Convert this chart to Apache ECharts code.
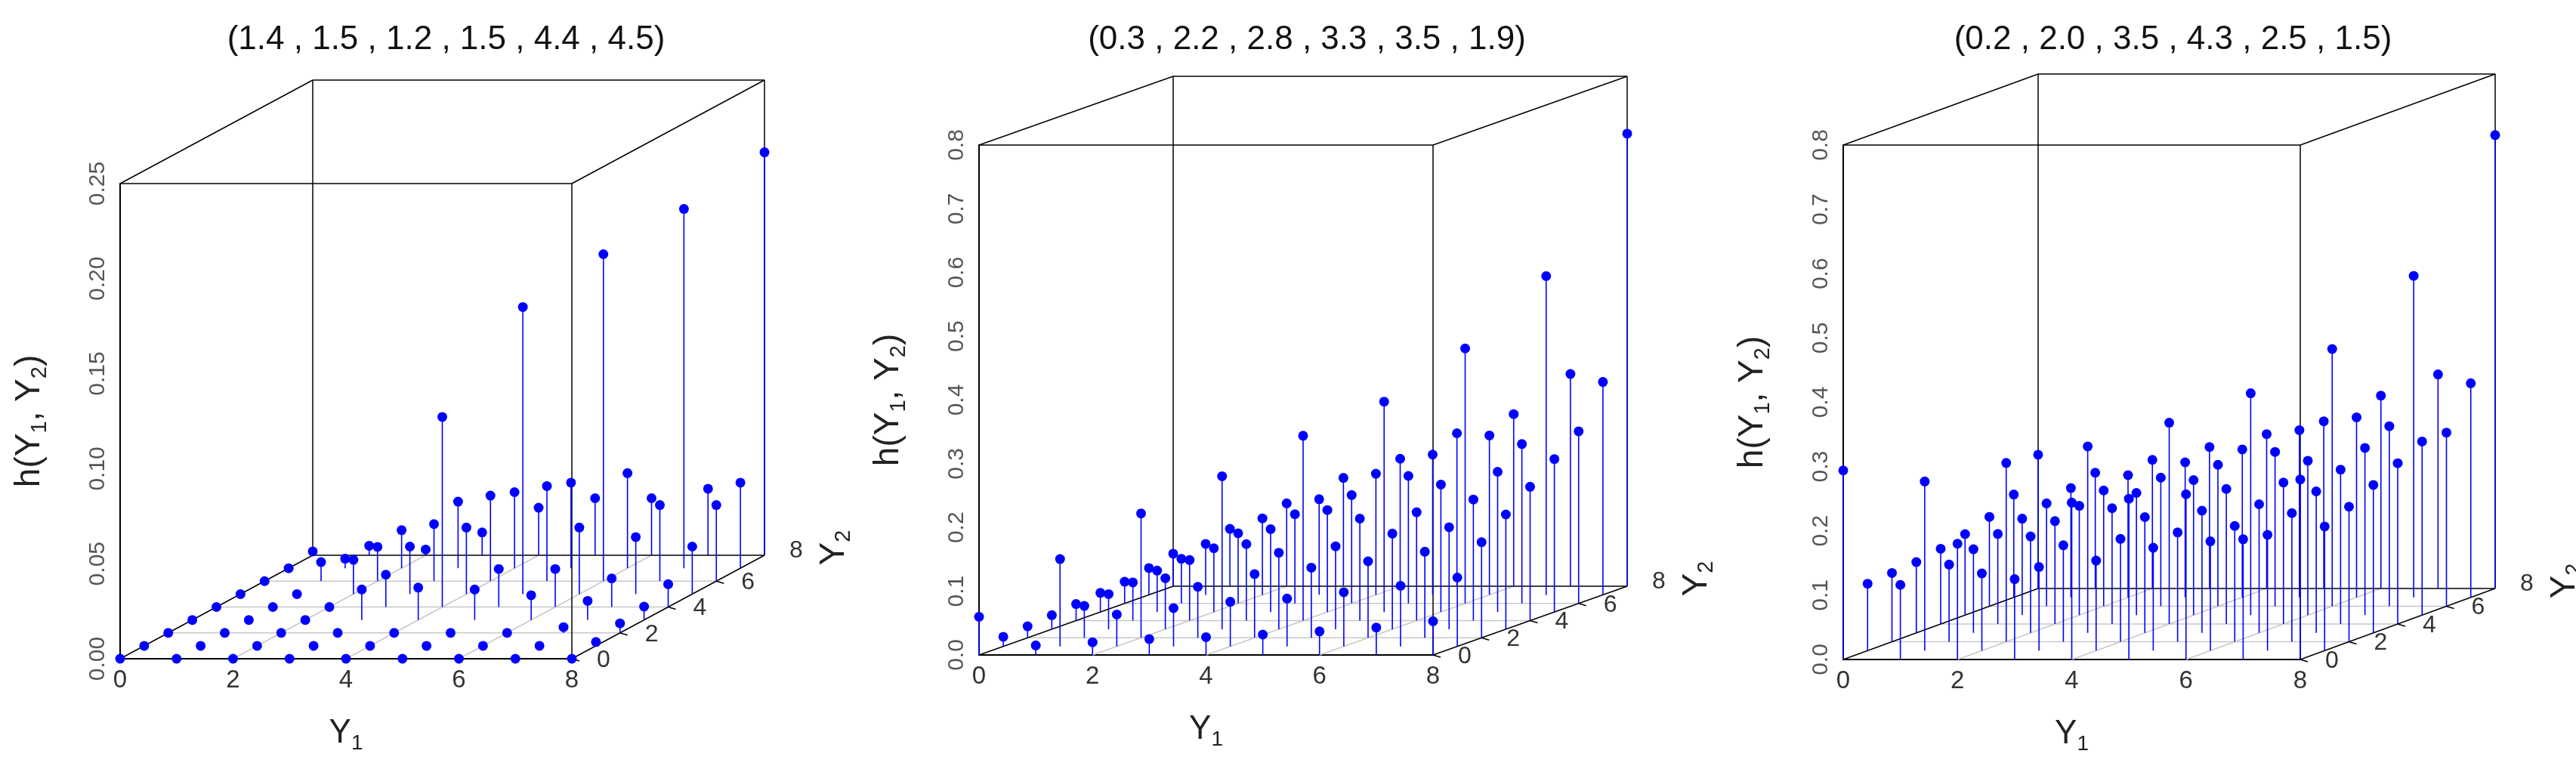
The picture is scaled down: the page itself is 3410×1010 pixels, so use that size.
<!DOCTYPE html>
<html><head><meta charset="utf-8">
<script src="https://cdn.jsdelivr.net/npm/echarts@6/dist/echarts.min.js"></script>
<style>html,body{margin:0;padding:0;background:#fff}#c{width:3410px;height:1010px}</style>
</head><body><div id="c"></div>
<script>
const Y1 = [0,1,2,3,4,5,6,7,8];
const Y2 = [0,1,2,3,4,5,6,7,8];
const titles = ['(1.4 , 1.5 , 1.2 , 1.5 , 4.4 , 4.5)','(0.3 , 2.2 , 2.8 , 3.3 , 3.5 , 1.9)','(0.2 , 2.0 , 3.5 , 4.3 , 2.5 , 1.5)'];
const y2Ticks = [0,2,4,6,8];
// rows: Y2 = 0..8, columns: Y1 = 0..8
const h1 = [
 [0,0,0,0,0,0,0,0,0],
 [0,0,0,0,0,0,0,0,0.002],
 [0,0,0,0,0,0,0,0.003,0.005],
 [0,0,0,0.016,0.017,0.016,0.013,0.01,0.007],
 [0,0,0,0.017,0.10,0.02,0.02,0.015,0.012],
 [0,0,0.018,0.025,0.035,0.151,0.035,0.03,0.025],
 [0,0.01,0.018,0.03,0.045,0.05,0.172,0.04,0.04],
 [0,0.005,0.02,0.035,0.04,0.045,0.05,0.189,0.045],
 [0.002,0.005,0.003,0.012,0.025,0.03,0.03,0.035,0.212]
];
const h2 = [
 [0.06,0.015,0.02,0.025,0.028,0.032,0.037,0.043,0.053],
 [0.015,0.137,0.05,0.06,0.07,0.075,0.085,0.095,0.108],
 [0.018,0.05,0.195,0.08,0.10,0.11,0.12,0.135,0.15],
 [0.022,0.055,0.08,0.24,0.12,0.13,0.15,0.16,0.18],
 [0.026,0.06,0.095,0.12,0.29,0.16,0.17,0.19,0.21],
 [0.03,0.065,0.10,0.13,0.16,0.33,0.2,0.22,0.24],
 [0.034,0.07,0.11,0.14,0.17,0.2,0.40,0.25,0.27],
 [0.042,0.08,0.12,0.15,0.19,0.22,0.25,0.50,0.334],
 [0.051,0.09,0.13,0.17,0.2,0.24,0.27,0.333,0.71]
];
const h3 = [
 [0.294,0.116,0.18,0.125,0.244,0.25,0.257,0.187,0.28],
 [0.104,0.263,0.12,0.13,0.14,0.16,0.17,0.18,0.193],
 [0.107,0.12,0.278,0.15,0.16,0.17,0.18,0.2,0.21],
 [0.11,0.13,0.15,0.29,0.18,0.19,0.2,0.22,0.23],
 [0.117,0.14,0.16,0.18,0.313,0.21,0.22,0.24,0.25],
 [0.126,0.15,0.17,0.19,0.21,0.345,0.24,0.26,0.27],
 [0.139,0.16,0.18,0.2,0.22,0.24,0.40,0.28,0.27],
 [0.16,0.17,0.19,0.21,0.23,0.26,0.28,0.50,0.333],
 [0.208,0.18,0.2,0.22,0.24,0.26,0.3,0.333,0.705]
];

const panels = [
 {h:h1, zmax:0.25, zint:0.05, dec:2, L:159, R:757, T:243, B:872, dx:255, dy:-137},
 {h:h2, zmax:0.8, zint:0.1, dec:1, L:1296, R:1897, T:192, B:867, dx:257, dy:-91},
 {h:h3, zmax:0.8, zint:0.1, dec:1, L:2440, R:3045, T:192, B:873, dx:258, dy:-94}
];
const BLUE = '#0000ff';
const FF = 'Liberation Sans, Arial';
const chart = echarts.init(document.getElementById('c'));
const grid=[], xAxis=[], yAxis=[], series=[], title=[];
const Y2MAX = 8;

panels.forEach((p,i)=>{
  grid.push({left:p.L, top:p.T, width:p.R-p.L, height:p.B-p.T});
  title.push({text:titles[i], left:(p.L+p.R+p.dx)/2, top:26, textAlign:'center',
    textStyle:{fontFamily:FF, fontSize:44, fontWeight:'normal', color:'#111'}});
  xAxis.push({gridIndex:i, type:'value', min:0, max:8, interval:2,
    name:'{a|Y}{s|1}', nameLocation:'middle', nameGap:72,
    nameTextStyle:{rich:{a:{fontSize:44,color:'#222',fontFamily:FF},s:{fontSize:28,color:'#222',padding:[26,0,0,0],fontFamily:FF}}},
    axisLine:{lineStyle:{color:'#000',width:2}}, axisTick:{show:false},
    axisLabel:{fontSize:33, color:'#333', margin:12, fontFamily:FF},
    splitLine:{show:false}});
  yAxis.push({gridIndex:i, type:'value', min:0, max:p.zmax, interval:p.zint,
    name:'{a|h(Y}{s|1}{a|, Y}{s|2}{a|)}', nameLocation:'middle', nameGap:92, nameRotate:90,
    nameTextStyle:{rich:{a:{fontSize:46,color:'#222',fontFamily:FF},s:{fontSize:29,color:'#222',padding:[26,0,0,0],fontFamily:FF}}},
    axisLine:{show:true, lineStyle:{color:'#000',width:2}}, axisTick:{show:false},
    axisLabel:{rotate:90, fontSize:30, color:'#555', margin:14, fontFamily:FF,
      formatter:v=>v.toFixed(p.dec)},
    splitLine:{show:false}});

  const proj = (api,a,b,z)=>{
    const c = api.coord([a,z]);
    return [c[0]+b/Y2MAX*p.dx, c[1]+b/Y2MAX*p.dy];
  };
  series.push({type:'custom', xAxisIndex:i, yAxisIndex:i, clip:false, silent:true, z:1,
    data:[[0,0]],
    renderItem:(params,api)=>{
      const ch=[];
      const ln=(a,b,col,w)=>ch.push({type:'line',shape:{x1:a[0],y1:a[1],x2:b[0],y2:b[1]},style:{stroke:col,lineWidth:w}});
      const Z=p.zmax;
      [2,4,6].forEach(t=>{ln(proj(api,0,t,0),proj(api,8,t,0),'#c8c8c8',1.5);});
      [2,4,6].forEach(t=>{ln(proj(api,t,0,0),proj(api,t,8,0),'#c8c8c8',1.5);});
      const K='#000';
      ln(proj(api,0,0,0),proj(api,0,8,0),K,1.5);
      ln(proj(api,0,8,0),proj(api,8,8,0),K,1.5);
      ln(proj(api,8,0,0),proj(api,8,8,0),K,1.5);
      ln(proj(api,0,0,Z),proj(api,8,0,Z),K,1.5);
      ln(proj(api,8,0,0),proj(api,8,0,Z),K,1.5);
      ln(proj(api,0,8,0),proj(api,0,8,Z),K,1.5);
      ln(proj(api,8,8,0),proj(api,8,8,Z),K,1.5);
      ln(proj(api,0,8,Z),proj(api,8,8,Z),K,1.5);
      ln(proj(api,0,0,Z),proj(api,0,8,Z),K,1.5);
      ln(proj(api,8,0,Z),proj(api,8,8,Z),K,1.5);
      y2Ticks.forEach(t=>{
        const q=proj(api,8,t,0);
        if(t<8) ln(q,[q[0]+10,q[1]+3],K,1.5);
        ch.push({type:'text',x:q[0]+42,y:q[1]+(t===8?-6:2),style:{text:String(t),fontSize:32,fill:'#333',fontFamily:FF,align:'center',verticalAlign:'middle'}});
      });
      const q8=proj(api,8,8,0);
      ch.push({type:'text',x:q8[0]+92,y:q8[1]-10,rotation:Math.PI/2,
        style:{text:'{a|Y}{s|2}',rich:{a:{fontSize:46,fill:'#222',fontFamily:FF},s:{fontSize:29,fill:'#222',padding:[26,0,0,0],fontFamily:FF}},align:'center',verticalAlign:'middle'}});
      return {type:'group',children:ch};
    }});
  const pts=[];
  Y2.forEach((b,j)=>Y1.forEach((a,k)=>pts.push([a,b,p.h[j][k]])));
  series.push({type:'custom', xAxisIndex:i, yAxisIndex:i, clip:false, z:3,
    encode:{x:0,y:2}, data:pts,
    renderItem:(params,api)=>{
      const a=api.value(0), b=api.value(1), z=api.value(2);
      const base=proj(api,a,b,0), head=proj(api,a,b,z);
      return {type:'group',children:[
        {type:'line',shape:{x1:base[0],y1:base[1],x2:head[0],y2:head[1]},style:{stroke:BLUE,lineWidth:1.6}},
        {type:'circle',shape:{cx:head[0],cy:head[1],r:6.5},style:{fill:BLUE}}
      ]};
    }});
});
chart.setOption({animation:false, backgroundColor:'#fff', title, grid, xAxis, yAxis, series});
</script></body></html>
